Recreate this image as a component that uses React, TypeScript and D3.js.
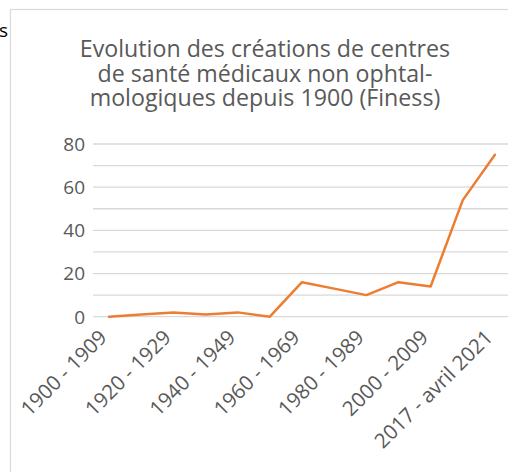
import React from 'react';
import * as d3 from 'd3';

const categories = [
  '1900 - 1909', '1910 - 1919', '1920 - 1929', '1930 - 1939', '1940 - 1949',
  '1950 - 1959', '1960 - 1969', '1970 - 1979', '1980 - 1989', '1990 - 1999',
  '2000 - 2009', '2010 - 2016', '2017 - avril 2021',
];
const values = [0, 1, 2, 1, 2, 0, 16, 13, 10, 16, 14, 54, 75];
const yTicks = [0, 20, 40, 60, 80];
const gridValues = [0, 10, 20, 30, 40, 50, 60, 70, 80];
const titleLines = [
  'Evolution des créations de centres',
  'de santé médicaux non ophtal-',
  'mologiques depuis 1900 (Finess)',
];

const W = 508;
const H = 472;
const font = "'Open Sans', 'Liberation Sans', sans-serif";
const textColor = '#595959';

const App: React.FC = () => {
  const x = d3.scaleBand<string>().domain(categories).range([93, 511]);
  const y = d3.scaleLinear().domain([0, 80]).range([316.7, 144]);
  const cx = (c: string) => (x(c) ?? 0) + x.bandwidth() / 2;

  const line = d3.line<number>()
    .x((_, i) => cx(categories[i]))
    .y(d => y(d));

  return (
    <div style={{ position: 'absolute', left: 0, top: 0 }}>
      <svg width={W} height={H} style={{ display: 'block', background: '#fff' }}>
        <text x={8} y={37} textAnchor="end" fontFamily={font} fontSize={19} fill="#000">s</text>
        <rect x={10.5} y={9.5} width={W + 20} height={H + 20} fill="#fff" stroke="#d9d9d9" strokeWidth={1.2} />

        {titleLines.map((t, i) => (
          <text key={t} x={265} y={57 + i * 24.5} textAnchor="middle" fontFamily={font}
            fontSize={23.2} fill={textColor}>{t}</text>
        ))}

        {gridValues.map(v => (
          <line key={v} x1={93} x2={W + 5} y1={y(v)} y2={y(v)} stroke="#d9d9d9" strokeWidth={1.3} />
        ))}

        {yTicks.map(v => (
          <text key={v} x={85} y={y(v)} dy="0.36em" textAnchor="end" fontFamily={font}
            fontSize={19} fill={textColor}>{v}</text>
        ))}

        {categories.map((c, i) => i % 2 === 0 ? (
          <text key={c} transform={`translate(${cx(c) - 1},${y(0) + 22}) rotate(-45)`}
            textAnchor="end" fontFamily={font} fontSize={20.5} fill={textColor}>{c}</text>
        ) : null)}

        <path d={line(values) ?? ''} fill="none" stroke="#ED7D31" strokeWidth={2.5}
          strokeLinejoin="round" strokeLinecap="round" />
      </svg>
    </div>
  );
};

export default App;
